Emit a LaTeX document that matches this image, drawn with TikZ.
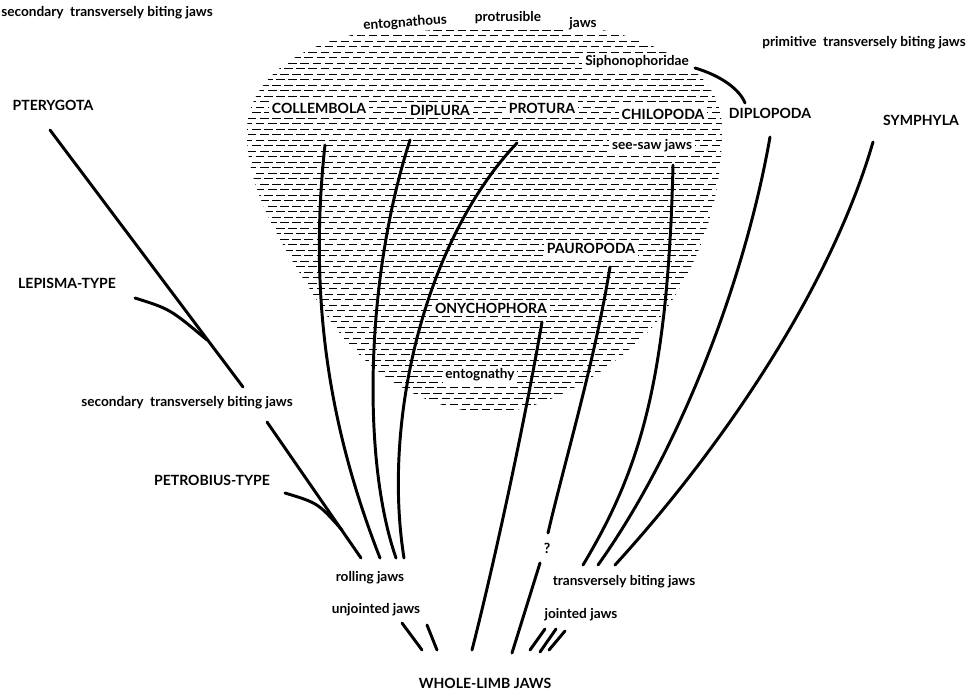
\documentclass[tikz,border=0pt]{standalone}
\usepackage{fontspec}
\setsansfont{Lato}

\begin{document}
\begin{tikzpicture}[
      x=0.025cm, y=-0.025cm,
      font=\sffamily\bfseries,
      taxon/.style={font=\sffamily\bfseries\fontsize{10}{12}\selectfont, inner sep=2pt},
      note/.style={font=\sffamily\bfseries\fontsize{9.7}{11}\selectfont, inner sep=2pt},
      inblob/.style={fill=white},
      branch/.style={line width=2.1pt, line cap=round},
      hatch/.style={line width=0.5pt, dash pattern=on 6pt off 2.6pt}
    ]
    \useasboundingbox (0,0) rectangle (980,692);

    % Entognathy field: rows of short dashes clipped to the blob
    \begin{scope}
      \clip (380,30) .. controls (470,20) and (560,22) .. (613,32)
            .. controls (690,55) and (722,85) .. (722,130)
            .. controls (722,200) and (700,270) .. (650,330)
            .. controls (600,380) and (540,412) .. (490,413)
            .. controls (420,410) and (360,370) .. (320,305)
            .. controls (285,250) and (245,190) .. (247,130)
            .. controls (248,80) and (300,40) .. (380,30) -- cycle;
      \foreach \r in {0,...,70} {
        \pgfmathsetmacro\ph{mod(\r,3)*2.9}
        \draw[hatch, dash phase=\ph pt] (240,30+5.5*\r) -- (730,30+5.5*\r);
      }
    \end{scope}

    \node[note] (sectop) at (107,13) {secondary\ \ transversely biting jaws};
    \node[note] (prim) at (864,43) {primitive\ \ transversely biting jaws};
    \node[taxon] (pterygota) at (53,105) {PTERYGOTA};
    \node[taxon] (lepisma) at (67,283) {LEPISMA-TYPE};
    \node[note] (secmid) at (187,403) {secondary\ \ transversely biting jaws};
    \node[taxon] (petrobius) at (212,480) {PETROBIUS-TYPE};

    \node[note, inblob, rotate=4] (entognathous) at (405,23) {entognathous};
    \node[note, inblob] (protrusible) at (508,18) {protrusible};
    \node[note, inblob] (topjaws) at (583,24) {jaws};
    \node[note, inblob] (siphono) at (637,62) {Siphonophoridae};

    \node[taxon, inblob] (collembola) at (319,108) {COLLEMBOLA};
    \node[taxon, inblob] (diplura) at (440,110) {DIPLURA};
    \node[taxon, inblob] (protura) at (542,108) {PROTURA};
    \node[taxon, inblob] (chilopoda) at (663,114) {CHILOPODA};
    \node[taxon] (diplopoda) at (770,113) {DIPLOPODA};
    \node[taxon] (symphyla) at (921,120) {SYMPHYLA};
    \node[note, inblob] (seesaw) at (652,146) {see-saw jaws};
    \node[taxon, inblob] (pauropoda) at (591,248) {PAUROPODA};
    \node[taxon, inblob] (onychophora) at (491,308) {ONYCHOPHORA};
    \node[note, inblob] (entognathy) at (480,375) {entognathy};

    \node[note] (rolling) at (370,578) {rolling jaws};
    \node[note] (unjointed) at (376,610) {unjointed jaws};
    \node[taxon] (query) at (547,548) {?};
    \node[note] (transv) at (624,582) {transversely biting jaws};
    \node[note] (jointed) at (581,615) {jointed jaws};
    \node[taxon] (wholelimb) at (485,683) {WHOLE-LIMB JAWS};

    \coordinate (pter-a) at (50,130);   \coordinate (pter-b) at (243,387);
    \coordinate (lep-a) at (135,298);   \coordinate (lep-b) at (207,340);
    \coordinate (sec-a) at (267,422);   \coordinate (sec-b) at (361,558);
    \coordinate (pet-a) at (285,493);   \coordinate (pet-b) at (342,530);
    \coordinate (coll-a) at (325,145);  \coordinate (coll-b) at (380,558);
    \coordinate (dipl-a) at (410,140);  \coordinate (dipl-b) at (396,558);
    \coordinate (prot-a) at (517,143);  \coordinate (prot-b) at (404,558);
    \coordinate (chil-a) at (673,165);  \coordinate (chil-b) at (583,565);
    \coordinate (diplo-a) at (770,137); \coordinate (diplo-b) at (598,565);
    \coordinate (symp-a) at (873,142);  \coordinate (symp-b) at (615,565);
    \coordinate (paur-a) at (610,267);  \coordinate (paur-b) at (548,533);
    \coordinate (paur-c) at (540,563);  \coordinate (paur-d) at (512,653);
    \coordinate (onych-a) at (542,322); \coordinate (onych-b) at (472,650);
    \coordinate (siph-a) at (695,68);   \coordinate (siph-b) at (745,103);

    \draw[branch] (pter-a) -- (pter-b);
    \draw[branch] (lep-a) .. controls (170,309) .. (lep-b);
    \draw[branch] (sec-a) -- (sec-b);
    \draw[branch] (pet-a) .. controls (318,503) .. (pet-b);
    \draw[branch] (coll-a) .. controls (308,300) and (330,430) .. (coll-b);
    \draw[branch] (dipl-a) .. controls (365,280) and (362,460) .. (dipl-b);
    \draw[branch] (prot-a) .. controls (425,240) and (382,420) .. (prot-b);
    \draw[branch] (chil-a) .. controls (668,380) and (640,470) .. (chil-b);
    \draw[branch] (diplo-a) .. controls (745,280) and (680,450) .. (diplo-b);
    \draw[branch] (symp-a) .. controls (830,290) and (720,450) .. (symp-b);
    \draw[branch] (paur-a) .. controls (595,360) and (565,460) .. (paur-b);
    \draw[branch] (paur-c) -- (paur-d);
    \draw[branch] (onych-a) .. controls (525,420) and (495,560) .. (onych-b);
    \draw[branch] (siph-a) .. controls (722,76) and (740,90) .. (siph-b);

    \draw[branch] (402,623) -- (422,650);
    \draw[branch] (427,625) -- (437,650);
    \draw[branch] (545,629) -- (530,650);
    \draw[branch] (556,629) -- (540,652);
    \draw[branch] (565,631) -- (549,650);

  \end{tikzpicture}
\end{document}
